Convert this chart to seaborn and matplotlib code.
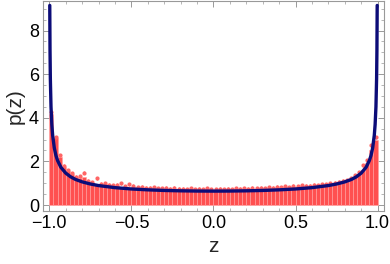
import matplotlib
matplotlib.use("Agg")
import matplotlib.pyplot as plt
import numpy as np
import seaborn as sns
from matplotlib.ticker import MultipleLocator

# histogram bar heights, 80 bins of width 0.025 from -1 to 1
bar_heights = [4.15, 3.05, 2.20, 1.72, 1.55, 1.40, 1.30, 1.22, 1.30, 1.05,
               1.02, 0.98, 0.93, 0.96, 0.90, 0.86, 0.88, 0.84, 0.82, 0.80,
               0.84, 0.78, 0.80, 0.76, 0.75, 0.77, 0.74, 0.73, 0.75, 0.72,
               0.74, 0.71, 0.72, 0.70, 0.73, 0.70, 0.71, 0.69, 0.72, 0.70,
               0.70, 0.71, 0.69, 0.72, 0.70, 0.73, 0.71, 0.74, 0.72, 0.75,
               0.73, 0.76, 0.74, 0.78, 0.76, 0.80, 0.78, 0.81, 0.79, 0.84,
               0.82, 0.86, 0.84, 0.85, 0.88, 0.87, 0.92, 0.90, 0.96, 0.98,
               1.02, 1.06, 1.10, 1.18, 1.28, 1.42, 1.62, 1.92, 2.50, 3.00]

# sampled points (bin centres) with small error bars
point_values = [4.25, 3.10, 2.27, 1.80, 1.60, 1.45, 1.30, 1.32, 1.47, 1.10,
                1.05, 1.23, 0.97, 1.00, 0.93, 0.90, 0.92, 1.00, 0.86, 0.95,
                0.88, 0.82, 0.84, 0.80, 0.79, 0.82, 0.77, 0.76, 0.79, 0.75,
                0.78, 0.74, 0.75, 0.73, 0.77, 0.73, 0.74, 0.72, 0.76, 0.73,
                0.73, 0.75, 0.72, 0.75, 0.73, 0.77, 0.74, 0.77, 0.75, 0.79,
                0.76, 0.80, 0.77, 0.82, 0.79, 0.84, 0.81, 0.85, 0.82, 0.87,
                0.85, 0.90, 0.87, 0.89, 0.92, 0.90, 0.96, 0.94, 1.00, 1.02,
                1.06, 1.10, 1.14, 1.22, 1.37, 1.50, 1.83, 2.05, 2.74, 3.10]
point_err = 0.07

# theoretical curve
curve_z = [-0.9976, -0.996, -0.994, -0.99, -0.985, -0.98, -0.97, -0.96, -0.95,
           -0.93, -0.9, -0.87, -0.84, -0.8, -0.75, -0.7, -0.6, -0.5, -0.4, -0.3,
           -0.2, -0.1, 0.0, 0.1, 0.2, 0.3, 0.4, 0.5, 0.6, 0.7, 0.75, 0.8, 0.84,
           0.87, 0.9, 0.93, 0.95, 0.96, 0.97, 0.98, 0.985, 0.99, 0.994, 0.996, 0.9976]
curve_p = [9.15, 7.1, 5.8, 4.5, 3.7, 3.2, 2.62, 2.27, 2.04,
           1.73, 1.46, 1.29, 1.17, 1.06, 0.963, 0.891, 0.796, 0.735, 0.695, 0.667,
           0.65, 0.64, 0.637, 0.64, 0.65, 0.667, 0.695, 0.735, 0.796, 0.891, 0.963, 1.06, 1.17,
           1.29, 1.46, 1.73, 2.04, 2.27, 2.62, 3.2, 3.7, 4.5, 5.8, 7.1, 9.15]

sns.set_theme(style="ticks")
plt.rcParams['font.family'] = ['Liberation Sans', 'DejaVu Sans']

edges = np.linspace(-1, 1, len(bar_heights) + 1)
centers = (edges[:-1] + edges[1:]) / 2
width = edges[1] - edges[0]

fig = plt.figure(figsize=(3.9, 2.64), dpi=100)
ax = fig.add_axes([0.111, 0.202, 0.874, 0.794])

ax.bar(centers, bar_heights, width=width, color='#ff5050', edgecolor='#ffa0a0',
       linewidth=0.4, zorder=1)
ax.errorbar(centers, point_values, yerr=point_err, fmt='o', ms=2.0, color='#ff6565',
            elinewidth=1.0, capsize=0, zorder=2)
sns.lineplot(x=curve_z, y=curve_p, sort=False, estimator=None, color='#0c0c78',
             linewidth=2.4, ax=ax, zorder=3)

ax.set_xlim(-1.037, 1.04)
ax.set_ylim(-0.26, 9.35)
ax.xaxis.set_major_locator(MultipleLocator(0.5))
ax.xaxis.set_minor_locator(MultipleLocator(0.1))
ax.yaxis.set_major_locator(MultipleLocator(2))
ax.yaxis.set_minor_locator(MultipleLocator(0.5))
ax.xaxis.set_major_formatter(lambda v, p: f"{v:.1f}".replace('-', '\u2212'))

for s in ax.spines.values():
    s.set_color('#999999')
    s.set_linewidth(0.8)
ax.tick_params(which='both', direction='in', top=True, right=True, color='#999999',
               labelsize=13, labelcolor='black', pad=3)
ax.tick_params(which='major', length=4, width=0.7)
ax.tick_params(which='minor', length=2, width=0.5)

ax.set_xlabel("z", fontsize=15, labelpad=4)
ax.set_ylabel("p(z)", fontsize=15, labelpad=3)

fig.savefig("out.png", dpi=100)
